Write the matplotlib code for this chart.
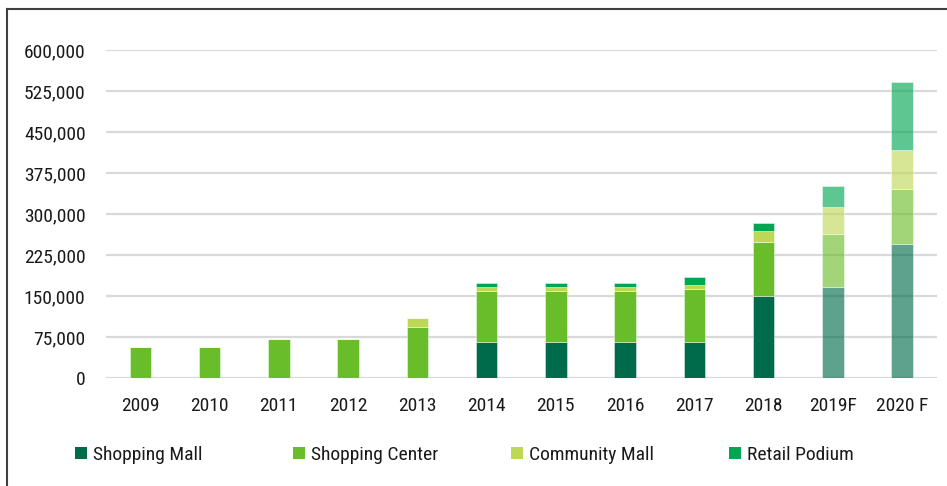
import matplotlib
matplotlib.use("Agg")
import matplotlib.pyplot as plt
from matplotlib.lines import Line2D
from matplotlib.patches import Patch
from matplotlib.colors import to_rgba
from matplotlib import font_manager
import numpy as np

# prefer a narrow face for the labels
installed = {f.name for f in font_manager.fontManager.ttflist}
narrow = [n for n in ("Liberation Sans Narrow", "DejaVu Sans Condensed",
                      "Roboto Condensed", "Open Sans Condensed", "Noto Sans Condensed")
          if n in installed]
plt.rcParams['font.family'] = narrow[:1] + ['DejaVu Sans']
if not narrow:
    plt.rcParams['font.stretch'] = 'condensed'

years = ["2009", "2010", "2011", "2012", "2013", "2014", "2015",
         "2016", "2017", "2018", "2019F", "2020 F"]
forecast = [False] * 10 + [True, True]

shopping_mall = [0, 0, 0, 0, 0, 65000, 65000, 65000, 65000, 150000, 166000, 245000]
shopping_center = [56000, 56000, 72000, 72000, 94000, 95000, 95000, 95000, 98000, 98000, 98000, 100000]
community_mall = [0, 0, 0, 0, 15000, 7000, 7000, 7000, 7000, 21000, 48000, 72000]
retail_podium = [0, 0, 0, 0, 0, 6000, 6000, 6000, 15000, 14000, 40000, 124000]

series = [
    ("Shopping Mall", shopping_mall, "#006B4A"),
    ("Shopping Center", shopping_center, "#6ABD2A"),
    ("Community Mall", community_mall, "#BED856"),
    ("Retail Podium", retail_podium, "#00A651"),
]

W, H = 947, 486
fig = plt.figure(figsize=(W / 100, H / 100), dpi=100)
ax = fig.add_axes([105.7 / W, 1 - 378 / H, (936.7 - 105.7) / W, (378 - 50) / H])

x = np.arange(len(years))
bottom = np.zeros(len(years))
for name, vals, col in series:
    vals = np.array(vals, dtype=float)
    colors = [to_rgba(col, 0.63 if f else 1.0) for f in forecast]
    ax.bar(x, vals, width=0.31, bottom=bottom, color=colors,
           edgecolor=(1, 1, 1, 0.5), linewidth=0.6, zorder=3)
    bottom += vals

ax.set_xlim(-0.5, len(years) - 0.5)
ax.set_ylim(0, 600000)
yt = np.arange(0, 600001, 75000)
ax.set_yticks(yt)
ax.set_yticklabels([f"{v:,}" for v in yt])
ax.set_xticks(x)
ax.set_xticklabels(years)
ax.tick_params(axis='both', length=0, labelsize=14, colors="#1a1a1a")
ax.tick_params(axis='y', pad=14.5)
ax.tick_params(axis='x', pad=14)
ax.grid(axis='y', color="#D9D9D9", linewidth=1.6, zorder=0)
for s in ax.spines.values():
    s.set_visible(False)

# legend: evenly spaced entries below the plot
for i, (name, vals, col) in enumerate(series):
    leg = fig.legend([Patch(facecolor=col)], [name], loc='center left',
                     bbox_to_anchor=((75 + 218 * i) / W, 1 - 455 / H),
                     frameon=False, borderpad=0, borderaxespad=0,
                     handlelength=0.62, handleheight=0.62, handletextpad=0.3,
                     fontsize=14)
    for t in leg.get_texts():
        t.set_color("#1a1a1a")

# frame lines along the top and left of the figure
fig.add_artist(Line2D([7 / W, 1], [1 - 9.5 / H, 1 - 9.5 / H], color="#404040",
                      linewidth=1.5, transform=fig.transFigure))
fig.add_artist(Line2D([7 / W, 7 / W], [0, 1 - 9.5 / H], color="#404040",
                      linewidth=1.5, transform=fig.transFigure))

fig.savefig("out.png", dpi=100)
